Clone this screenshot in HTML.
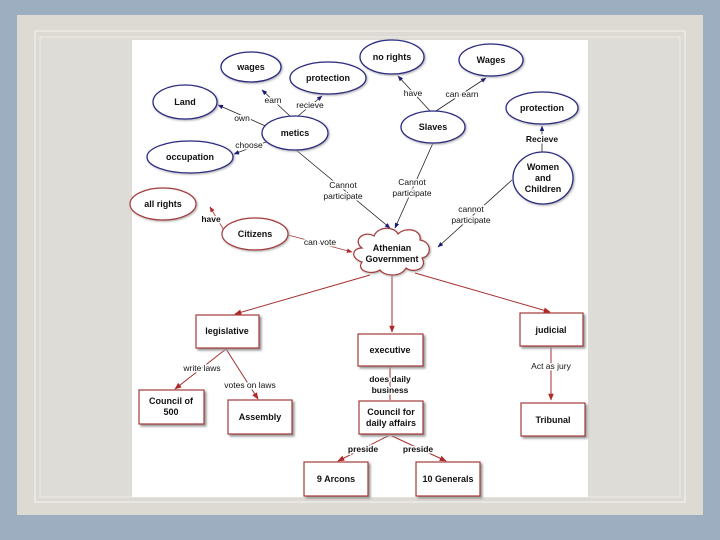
<!DOCTYPE html>
<html><head><style>
body{margin:0;width:720px;height:540px;overflow:hidden;background:#9caebf}
</style></head><body>
<svg width="720" height="540" viewBox="0 0 720 540" xmlns="http://www.w3.org/2000/svg" style="position:absolute;left:0;top:0">
<defs>
<marker id="ab" viewBox="0 0 10 10" refX="9" refY="5" markerWidth="7" markerHeight="7" orient="auto"><path d="M0,1 L10,5 L0,9 z" fill="#1c1c78"/></marker>
<marker id="ar" viewBox="0 0 10 10" refX="9" refY="5" markerWidth="7" markerHeight="7" orient="auto"><path d="M0,1 L10,5 L0,9 z" fill="#b02828"/></marker>
</defs>
<rect x="17" y="15" width="686" height="500" fill="#dcdad3"/>
<rect x="35" y="31" width="650" height="471" fill="none" stroke="#ecebe6" stroke-width="1.5"/>
<rect x="40" y="37" width="640" height="460" fill="#dedcd6" stroke="#ecebe6" stroke-width="1"/>
<rect x="132" y="40" width="456" height="457" fill="#fff"/>
<g font-family="Liberation Sans, sans-serif" font-size="9" font-weight="bold" fill="#111" text-anchor="middle">
<g stroke="#222" stroke-width="0.8" fill="none">
<line x1="290" y1="116" x2="262" y2="90" marker-end="url(#ab)"/>
<line x1="298" y1="116" x2="322" y2="96" marker-end="url(#ab)"/>
<line x1="270" y1="128" x2="218" y2="105" marker-end="url(#ab)"/>
<line x1="266" y1="142" x2="234" y2="154" marker-end="url(#ab)"/>
<line x1="430" y1="111" x2="398" y2="76" marker-end="url(#ab)"/>
<line x1="436" y1="111" x2="486" y2="78" marker-end="url(#ab)"/>
<line x1="542" y1="152" x2="542" y2="126" marker-end="url(#ab)"/>
<line x1="296" y1="150" x2="390" y2="228" marker-end="url(#ab)"/>
<line x1="433" y1="143" x2="395" y2="228" marker-end="url(#ab)"/>
<line x1="512" y1="180" x2="438" y2="247" marker-end="url(#ab)"/>
</g>
<g stroke="#a53a3a" stroke-width="0.8" fill="none">
<line x1="225" y1="232" x2="210" y2="207" marker-end="url(#ar)"/>
<line x1="288" y1="235" x2="352" y2="252" marker-end="url(#ar)"/>
</g>
<g stroke="#a53030" stroke-width="1" fill="none">
<line x1="370" y1="275" x2="235" y2="314" marker-end="url(#ar)"/>
<line x1="392" y1="276" x2="392" y2="332" marker-end="url(#ar)"/>
<line x1="415" y1="273" x2="550" y2="312" marker-end="url(#ar)"/>
<line x1="226" y1="349" x2="175" y2="389" marker-end="url(#ar)"/>
<line x1="226" y1="349" x2="258" y2="399" marker-end="url(#ar)"/>
<line x1="390" y1="367" x2="390" y2="400"/>
<line x1="551" y1="347" x2="551" y2="400" marker-end="url(#ar)"/>
<line x1="388" y1="436" x2="338" y2="461" marker-end="url(#ar)"/>
<line x1="392" y1="436" x2="446" y2="461" marker-end="url(#ar)"/>
</g>
<g fill="#fff" stroke="#2a2a80" stroke-width="1.3" style="filter:drop-shadow(1px 1px 1px #aaa)">
<ellipse cx="251" cy="67" rx="30" ry="15"/>
<ellipse cx="328" cy="78" rx="38" ry="16"/>
<ellipse cx="392" cy="57" rx="32" ry="17"/>
<ellipse cx="491" cy="60" rx="32" ry="16"/>
<ellipse cx="185" cy="102" rx="32" ry="17"/>
<ellipse cx="295" cy="133" rx="33" ry="17"/>
<ellipse cx="433" cy="127" rx="32" ry="16"/>
<ellipse cx="542" cy="108" rx="36" ry="16"/>
<ellipse cx="190" cy="157" rx="43" ry="16"/>
<ellipse cx="543" cy="178" rx="30" ry="26"/>
</g>
<g fill="#fff" stroke="#a53a3a" stroke-width="1.2" style="filter:drop-shadow(1px 1px 1px #aaa)">
<ellipse cx="163" cy="204" rx="33" ry="16"/>
<ellipse cx="255" cy="234" rx="33" ry="16"/>
<path d="M362,248 C352,240 364,230 374,236 C378,226 394,226 398,234 C406,226 422,230 420,240 C432,242 432,256 422,258 C428,268 414,274 406,268 C400,278 384,276 380,270 C370,276 356,270 362,262 C350,258 352,248 362,248 Z"/>
</g>
<g fill="#fff" stroke="#a53a3a" stroke-width="1.2" style="filter:drop-shadow(2px 2px 1px #999)">
<rect x="196" y="315" width="63" height="33"/>
<rect x="358" y="334" width="65" height="32"/>
<rect x="520" y="313" width="63" height="33"/>
<rect x="139" y="390" width="65" height="34"/>
<rect x="228" y="400" width="64" height="34"/>
<rect x="359" y="401" width="64" height="33"/>
<rect x="521" y="403" width="64" height="33"/>
<rect x="304" y="462" width="64" height="34"/>
<rect x="416" y="462" width="64" height="34"/>
</g>
<text x="251" y="70">wages</text>
<text x="328" y="81">protection</text>
<text x="392" y="60">no rights</text>
<text x="491" y="63">Wages</text>
<text x="185" y="105">Land</text>
<text x="295" y="136">metics</text>
<text x="433" y="130">Slaves</text>
<text x="542" y="111">protection</text>
<text x="190" y="160">occupation</text>
<text x="543" y="170">Women</text><text x="543" y="181">and</text><text x="543" y="192">Children</text>
<text x="163" y="207">all rights</text>
<text x="255" y="237">Citizens</text>
<text x="392" y="251">Athenian</text><text x="392" y="262">Government</text>
<text x="227" y="334">legislative</text>
<text x="390" y="353">executive</text>
<text x="551" y="333">judicial</text>
<text x="171" y="404">Council of</text><text x="171" y="415">500</text>
<text x="260" y="420">Assembly</text>
<text x="391" y="415">Council for</text><text x="391" y="426">daily affairs</text>
<text x="553" y="423">Tribunal</text>
<text x="336" y="482">9 Arcons</text>
<text x="448" y="482">10 Generals</text>
<g font-weight="normal" font-size="8.5">
<text x="273" y="103" style="paint-order:stroke" stroke="#fff" stroke-width="3">earn</text>
<text x="310" y="108" style="paint-order:stroke" stroke="#fff" stroke-width="3">recieve</text>
<text x="242" y="121" style="paint-order:stroke" stroke="#fff" stroke-width="3">own</text>
<text x="249" y="148" style="paint-order:stroke" stroke="#fff" stroke-width="3">choose</text>
<text x="413" y="96" style="paint-order:stroke" stroke="#fff" stroke-width="3">have</text>
<text x="462" y="97" style="paint-order:stroke" stroke="#fff" stroke-width="3">can earn</text>
<text x="542" y="142" font-weight="bold" style="paint-order:stroke" stroke="#fff" stroke-width="3">Recieve</text>
<text x="343" y="188" style="paint-order:stroke" stroke="#fff" stroke-width="3">Cannot</text><text x="343" y="199" style="paint-order:stroke" stroke="#fff" stroke-width="3">participate</text>
<text x="412" y="185" style="paint-order:stroke" stroke="#fff" stroke-width="3">Cannot</text><text x="412" y="196" style="paint-order:stroke" stroke="#fff" stroke-width="3">participate</text>
<text x="471" y="212" style="paint-order:stroke" stroke="#fff" stroke-width="3">cannot</text><text x="471" y="223" style="paint-order:stroke" stroke="#fff" stroke-width="3">participate</text>
<text x="211" y="222" font-weight="bold" style="paint-order:stroke" stroke="#fff" stroke-width="3">have</text>
<text x="320" y="245" style="paint-order:stroke" stroke="#fff" stroke-width="3">can vote</text>
<text x="202" y="371" style="paint-order:stroke" stroke="#fff" stroke-width="3">write laws</text>
<text x="250" y="388" style="paint-order:stroke" stroke="#fff" stroke-width="3">votes on laws</text>
<text x="390" y="382" font-weight="bold" style="paint-order:stroke" stroke="#fff" stroke-width="3">does daily</text><text x="390" y="393" font-weight="bold" style="paint-order:stroke" stroke="#fff" stroke-width="3">business</text>
<text x="551" y="369" style="paint-order:stroke" stroke="#fff" stroke-width="3">Act as jury</text>
<text x="363" y="452" font-weight="bold" style="paint-order:stroke" stroke="#fff" stroke-width="3">preside</text>
<text x="418" y="452" font-weight="bold" style="paint-order:stroke" stroke="#fff" stroke-width="3">preside</text>
</g>
</g>
</svg>
</body></html>
